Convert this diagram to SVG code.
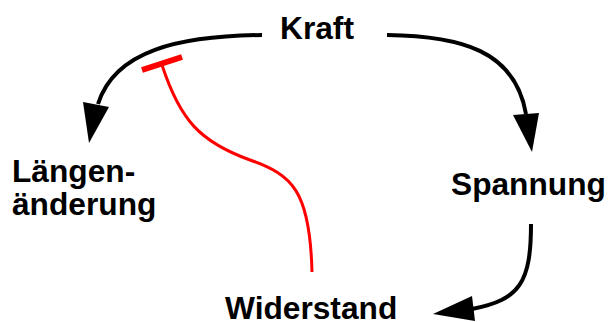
<svg xmlns="http://www.w3.org/2000/svg" width="609" height="322" viewBox="0 0 609 322">
<style>
.lbl{font-family:"Liberation Sans",Arial,sans-serif;font-weight:bold;font-size:31.7px;fill:#000}
.arr{fill:none;stroke:#000;stroke-width:4}
.head{fill:#000}
.inh{fill:none;stroke:#ff0000;stroke-width:3}
</style>
<rect width="609" height="322" fill="#fff"/>
<g id="connectors">
<path class="arr" d="M262,35 C180,36 115,50 98,104"/>
<polygon class="head" points="83,102 109,107 89,143"/>
<path class="arr" d="M387,35 C460,36 515,50 526,114"/>
<polygon class="head" points="513,115 539,113 532,152"/>
<path class="arr" d="M531,224 C531,282 520,300 472,309"/>
<polygon class="head" points="472,296 475,321 433,314"/>
<path class="inh" d="M162,65 C180,120 200,142 250,160 C292,175 310,190 312,272"/>
<line x1="142" y1="70" x2="182" y2="57" stroke="#ff0000" stroke-width="6"/>
</g>
<g id="kraft"><text class="lbl" x="280" y="38.5">Kraft</text></g>
<g id="spannung"><text class="lbl" x="451" y="195">Spannung</text></g>
<g id="widerstand"><text class="lbl" x="225" y="319">Widerstand</text></g>
<g id="laengenaenderung"><text class="lbl" x="12" y="182">Längen-</text><text class="lbl" x="12" y="215">änderung</text></g>
</svg>
